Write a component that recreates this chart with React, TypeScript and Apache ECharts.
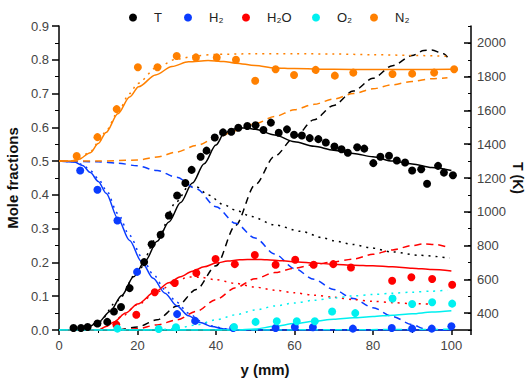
import React, { useEffect, useRef } from 'react';
import * as echarts from 'echarts';

type P = [number, number][];

const FONT = "Arial, 'Liberation Sans', Helvetica, sans-serif";

// legend / series names
const NAMES = ['T', 'H₂', 'H₂O', 'O₂', 'N₂'];
const COLORS = ['#000000', '#0a3cff', '#ff0000', '#00f0f0', '#ff8000'];
const LEGEND_DOT_X = [128, 183, 241, 311, 369];

const T_TICKS = [400, 600, 800, 1000, 1200, 1400, 1600, 1800, 2000];

// measured points (x in mm, T in K / mole fraction)
const T_PTS: P = [
  [3.7, 312], [5.6, 312], [7.3, 318], [9.8, 338], [12.3, 348], [14, 410], [15.8, 436], [18, 548],
  [21.7, 702], [23.6, 808], [25.9, 864], [28, 978], [30.1, 1096], [32.2, 1170], [33.8, 1248],
  [36.1, 1326], [37.6, 1362], [39.7, 1440], [41.8, 1470], [43.9, 1474], [45.7, 1498], [48, 1508],
  [50.1, 1512], [52.1, 1484], [54, 1528], [56, 1468], [58.1, 1488], [59.9, 1456], [61.9, 1452],
  [63.9, 1436], [66.1, 1430], [68, 1410], [70.2, 1386], [72, 1370], [73.6, 1350], [76, 1382],
  [77.8, 1374], [80.1, 1288], [81.9, 1326], [84.1, 1332], [86.1, 1304], [88.2, 1292], [90, 1244],
  [92.3, 1252], [93.8, 1166], [96.6, 1272], [98.1, 1232], [100.4, 1216],
];
const H2_PTS: P = [
  [5.4, 0.472], [9.8, 0.415], [14.9, 0.324], [19.9, 0.172], [30.1, 0.047], [34.7, 0.027],
  [44.4, 0.006], [55.2, 0.006], [60.1, 0.009], [64.7, 0.008], [74.9, 0.004], [84.8, 0.006],
  [90, 0.004], [95, 0.004], [100, 0.011],
];
const H2O_PTS: P = [
  [14.6, 0.016], [19.7, 0.045], [24.4, 0.112], [29.5, 0.139], [35, 0.169], [39.9, 0.21],
  [44.8, 0.195], [49.9, 0.222], [55.2, 0.193], [60.2, 0.208], [64.9, 0.193], [69.9, 0.195],
  [74.4, 0.185], [84.9, 0.146], [89.8, 0.156], [95.1, 0.151], [100.2, 0.134],
];
const O2_PTS: P = [
  [14.9, 0.004], [25.4, 0.003], [29.8, 0.008], [44.6, 0.009], [50.1, 0.024], [55.5, 0.026],
  [60.6, 0.026], [65.2, 0.026], [69.6, 0.055], [75.5, 0.05], [85, 0.093], [90, 0.077],
  [95.1, 0.082], [100.2, 0.078],
];
const N2_PTS: P = [
  [4.5, 0.515], [9.8, 0.571], [14.7, 0.654], [20.1, 0.778], [25.1, 0.778], [30, 0.811],
  [34.9, 0.807], [40.2, 0.807], [45.1, 0.8], [50, 0.738], [55.2, 0.772], [59.9, 0.755],
  [65.4, 0.77], [70.3, 0.753], [75, 0.762], [85, 0.758], [90, 0.759], [95.6, 0.762], [100.7, 0.772],
];

// model curves: solid, dashed, dotted
const T_SOLID: P = [
  [0, 300], [5, 303], [7, 312], [10, 345], [13, 410], [16, 505], [19, 615], [22, 710], [25, 825],
  [28, 940], [31, 1055], [34, 1170], [37, 1285], [40, 1395], [42, 1460], [44, 1488], [46, 1496],
  [48, 1496], [50, 1488], [55, 1455], [60, 1415], [65, 1388], [70, 1365], [75, 1345], [80, 1326],
  [85, 1300], [90, 1283], [95, 1262], [100, 1244],
];
const T_DASH: P = [
  [0, 300], [15, 302], [20, 318], [25, 360], [30, 440], [35, 540], [40, 680], [45, 920],
  [50, 1160], [55, 1330], [60, 1440], [65, 1545], [70, 1630], [75, 1715], [80, 1790], [85, 1865],
  [90, 1925], [93, 1955], [95, 1958], [98, 1935], [99, 1915],
];
const T_DOT: P = [
  [0, 300], [5, 303], [10, 342], [15, 475], [20, 645], [25, 845], [30, 1060], [33, 1150],
  [35, 1148], [38, 1100], [42, 1042], [45, 1010], [49, 972], [55, 922], [61.6, 884], [67.6, 844],
  [70, 828], [75, 806], [79, 788], [85, 762], [92, 742], [99.6, 726],
];
const H2_SOLID: P = [
  [0, 0.5], [4, 0.497], [6, 0.487], [8, 0.466], [10, 0.44], [12, 0.405], [15, 0.33], [18, 0.265],
  [21, 0.203], [24, 0.153], [27, 0.109], [30, 0.072], [33, 0.042], [36, 0.022], [39, 0.01],
  [42, 0.003], [45, 0], [100, 0],
];
const H2_DASH: P = [
  [0, 0.5], [10, 0.498], [15, 0.494], [20, 0.486], [25, 0.472], [30, 0.452], [35, 0.418],
  [40, 0.365], [45, 0.316], [50, 0.272], [55, 0.225], [60, 0.182], [65, 0.15], [70, 0.12],
  [75, 0.093], [80, 0.066], [85, 0.04], [90, 0.016], [93, 0.004], [96, 0], [100, 0],
];
const H2_DOT: P = [
  [0, 0.5], [4, 0.498], [6, 0.49], [8, 0.472], [10, 0.448], [12, 0.415], [15, 0.345], [18, 0.28],
  [21, 0.218], [24, 0.165], [27, 0.12], [30, 0.082], [33, 0.05], [36, 0.027], [39, 0.012],
  [42, 0.004], [45, 0], [100, 0],
];
const H2O_SOLID: P = [
  [0, 0], [10, 0], [12, 0.01], [14, 0.024], [17, 0.05], [20, 0.077], [24.5, 0.113], [28, 0.14],
  [31, 0.158], [34, 0.174], [37, 0.187], [40, 0.198], [43, 0.204], [46, 0.208], [50, 0.209],
  [53, 0.208], [57, 0.205], [61, 0.201], [65, 0.198], [70, 0.195], [75, 0.192], [80, 0.19],
  [85, 0.187], [90, 0.183], [95, 0.179], [100, 0.175],
];
const H2O_DASH: P = [
  [0, 0], [15, 0], [20, 0.004], [25, 0.015], [30, 0.03], [35, 0.055], [40, 0.09], [45, 0.125],
  [50, 0.152], [55, 0.17], [60, 0.183], [65, 0.194], [70, 0.202], [75, 0.21], [80, 0.224],
  [85, 0.237], [90, 0.25], [93, 0.255], [96, 0.253], [99, 0.245],
];
const H2O_DOT: P = [
  [0, 0], [10, 0.001], [13, 0.015], [16, 0.04], [20, 0.075], [25, 0.113], [30, 0.145],
  [33, 0.157], [36, 0.156], [40, 0.149], [45, 0.138], [50, 0.127], [55, 0.118], [60, 0.11],
  [65, 0.103], [70, 0.097], [75, 0.09], [80, 0.085], [85, 0.081], [90, 0.078], [96, 0.076],
];
const O2_SOLID: P = [
  [0, 0], [45, 0], [50, 0.003], [55, 0.011], [60, 0.019], [65, 0.026], [70, 0.032], [75, 0.036],
  [80, 0.04], [85, 0.044], [90, 0.048], [95, 0.053], [100, 0.057],
];
const O2_DASH: P = [[0, 0], [50, 0], [75, 0.001], [100, 0.002]];
const O2_DOT: P = [
  [0, 0], [25, 0], [30, 0.005], [35, 0.015], [40, 0.03], [45, 0.045], [50, 0.059], [55, 0.071],
  [60, 0.08], [65, 0.088], [70, 0.095], [75, 0.101], [80, 0.105], [85, 0.109], [90, 0.112],
  [95, 0.115], [99, 0.118],
];
const N2_SOLID: P = [
  [0, 0.5], [3, 0.5], [5, 0.505], [8, 0.525], [10, 0.552], [12, 0.585], [15, 0.64], [18, 0.69],
  [20.3, 0.72], [24.6, 0.755], [28.8, 0.78], [33, 0.794], [38, 0.798], [42, 0.795], [45, 0.79],
  [50, 0.783], [55, 0.776], [60, 0.774], [70, 0.772], [80, 0.771], [90, 0.771], [100, 0.772],
];
const N2_DASH: P = [
  [0, 0.5], [10, 0.5], [20, 0.503], [25, 0.512], [30, 0.527], [35, 0.546], [40, 0.568],
  [45, 0.59], [50, 0.611], [55, 0.632], [60, 0.652], [65, 0.668], [70, 0.684], [75, 0.7],
  [80, 0.714], [85, 0.726], [90, 0.736], [95, 0.744], [99, 0.747],
];
const N2_DOT: P = [
  [0, 0.5], [3, 0.5], [5, 0.506], [8, 0.528], [10, 0.555], [12, 0.59], [15, 0.645], [18, 0.7],
  [20, 0.73], [25, 0.778], [30, 0.802], [35, 0.812], [40, 0.816], [50, 0.818], [60, 0.818],
  [70, 0.817], [80, 0.815], [90, 0.813], [99, 0.81],
];

const POINTS = [T_PTS, H2_PTS, H2O_PTS, O2_PTS, N2_PTS];
const CURVES: P[][] = [
  [T_SOLID, T_DASH, T_DOT],
  [H2_SOLID, H2_DASH, H2_DOT],
  [H2O_SOLID, H2O_DASH, H2O_DOT],
  [O2_SOLID, O2_DASH, O2_DOT],
  [N2_SOLID, N2_DASH, N2_DOT],
];

const LINE_TYPES: any[] = ['solid', [7, 5], [2, 5]];
const LINE_TAGS = ['solid', 'dashed', 'dotted'];

function buildOption() {
  const series: any[] = [];
  CURVES.forEach((set, i) => {
    set.forEach((data, k) => {
      series.push({
        type: 'line',
        name: NAMES[i] + ' ' + LINE_TAGS[k],
        yAxisIndex: i === 0 ? 1 : 0,
        data,
        smooth: 0.3,
        smoothMonotone: 'x',
        showSymbol: false,
        silent: true,
        z: 2,
        lineStyle: { color: COLORS[i], width: 1.5, type: LINE_TYPES[k] },
      });
    });
  });
  POINTS.forEach((data, i) => {
    series.push({
      type: 'scatter',
      name: NAMES[i],
      yAxisIndex: i === 0 ? 1 : 0,
      data,
      symbol: 'circle',
      symbolSize: 8,
      z: 5,
      itemStyle: { color: COLORS[i], opacity: 1 },
    });
  });

  const tick = { lineStyle: { color: '#000', width: 1.5 } };
  const axisLine = { show: true, lineStyle: { color: '#000', width: 1.5 } };
  const label = { color: '#444', fontSize: 13, fontFamily: FONT };
  const title = { fontWeight: 'bold', fontSize: 15, color: '#111', fontFamily: FONT };

  const legends = NAMES.map((n, i) => ({
    left: LEGEND_DOT_X[i] - 4,
    top: 6,
    icon: 'circle',
    itemWidth: 8,
    itemHeight: 8,
    itemGap: 0,
    selectedMode: false,
    textStyle: { fontSize: 13, color: '#222', fontFamily: FONT, padding: [0, 0, 0, 12] },
    data: [n],
  }));

  return {
    animation: false,
    backgroundColor: '#ffffff',
    textStyle: { fontFamily: FONT },
    grid: { left: 59, right: 59, top: 26, bottom: 55, containLabel: false, outerBoundsMode: 'none' },
    legend: legends,
    xAxis: {
      type: 'value',
      min: 0,
      max: 105,
      interval: 20,
      axisLine,
      axisTick: { ...tick, length: 5 },
      minorTick: { show: true, splitNumber: 2, length: 3, lineStyle: { color: '#000', width: 1 } },
      splitLine: { show: false },
      axisLabel: { ...label, margin: 9, formatter: (v: number) => (v > 100 ? '' : String(v)) },
      name: 'y (mm)',
      nameLocation: 'middle',
      nameGap: 32,
      nameTextStyle: title,
    },
    yAxis: [
      {
        type: 'value',
        position: 'left',
        min: 0,
        max: 0.9,
        interval: 0.1,
        axisLine,
        axisTick: { ...tick, length: 7 },
        minorTick: { show: true, splitNumber: 2, length: 4, lineStyle: { color: '#000', width: 1 } },
        splitLine: { show: false },
        axisLabel: { ...label, margin: 10, formatter: (v: number) => v.toFixed(1) },
        name: 'Mole fractions',
        nameLocation: 'middle',
        nameGap: 36,
        nameTextStyle: title,
      },
      {
        type: 'value',
        position: 'right',
        min: 300,
        max: 2100,
        interval: 100,
        axisLine,
        axisTick: { ...tick, inside: true, length: 7, customValues: T_TICKS },
        splitLine: { show: false },
        axisLabel: { ...label, margin: 6, customValues: T_TICKS, formatter: (v: number) => String(v) },
        name: 'T (K)',
        nameLocation: 'middle',
        nameRotate: -90,
        nameGap: 40,
        nameMoveOverlap: false,
        nameTextStyle: { ...title, fontSize: 14 },
      },
      {
        type: 'value',
        position: 'right',
        min: 300,
        max: 2100,
        interval: 100,
        axisLine: { show: false },
        axisTick: { show: true, inside: true, length: 3, lineStyle: { color: '#000', width: 1 } },
        axisLabel: { show: false },
        splitLine: { show: false },
      },
    ],
    series,
  };
}

export default function App() {
  const ref = useRef<HTMLDivElement>(null);
  useEffect(() => {
    if (!ref.current) return;
    const chart = echarts.init(ref.current, undefined, { renderer: 'svg' });
    chart.setOption(buildOption() as any);
    return () => chart.dispose();
  }, []);
  return (
    <div
      ref={ref}
      style={{ width: 530, height: 385, position: 'absolute', left: 0, top: 0, background: '#fff' }}
    />
  );
}
